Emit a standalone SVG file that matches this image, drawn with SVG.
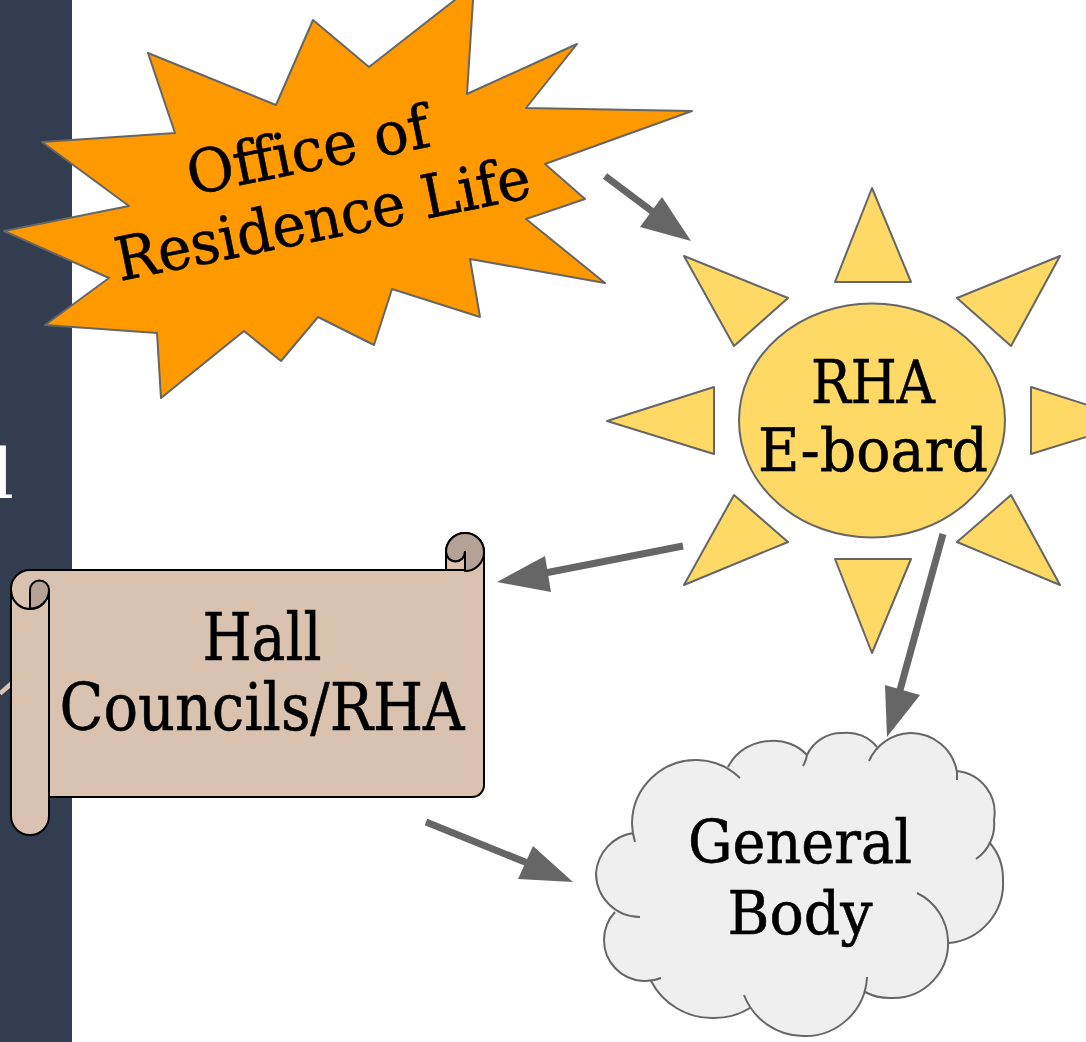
<svg xmlns="http://www.w3.org/2000/svg" width="1086" height="1042" viewBox="0 0 1086 1042">
<style>
.t{font-family:"DejaVu Serif",serif;text-anchor:middle;fill:#000;stroke:#000;stroke-width:.6}
.s{stroke:#666;stroke-width:2;stroke-linejoin:round}
.c{stroke:#666;stroke-width:7;fill:none}
.h{fill:#666}
.sc{fill:#d9c3b0;stroke:#000;stroke-width:2;stroke-linejoin:round}
.k{fill:#b3a295;stroke:#000;stroke-width:2;stroke-linejoin:round}
</style>
<rect x="0" y="0" width="1086" height="1042" fill="#fff"/>
<rect id="sidebar" x="0" y="0" width="72" height="1042" fill="#333d50"/>
<text x="14" y="498" text-anchor="end" font-family="DejaVu Serif,serif" font-size="70" fill="#fff">l</text>
<line x1="0" y1="693.500" x2="12" y2="683" stroke="#d9c3b0" stroke-width="4.500"/>
<g id="office">
<polygon class="s" fill="#ff9900" points="148,53 276,105 313,20 369,67 474,-15 467,94 577,44 526,108 692,111 545,164 585,199 526,219 605,283 470,259 480,317 392,289 374,345 318,317 281,361 244,331 161,398 157,333 45,325 109,278 4,231 129,206 42,142 175,133"/>
<g transform="rotate(-11.500 322 190)">
<text class="t" x="316" y="169" font-size="60" textLength="246" lengthAdjust="spacingAndGlyphs">Office of</text>
<text class="t" x="317" y="239" font-size="60" textLength="422" lengthAdjust="spacingAndGlyphs">Residence Life</text>
</g>
</g>
<g id="rha">
<g class="s" fill="#ffd966">
<ellipse cx="872" cy="420.500" rx="133" ry="117"/>
<polygon points="872,188 911,282 835,282"/>
<polygon points="872,653 835,559 911,559"/>
<polygon points="607,421 714,387 714,454"/>
<polygon points="1138,421 1031,387 1031,454"/>
<polygon points="684,256 788,298 734,346"/>
<polygon points="1060,256 957,298 1011,346"/>
<polygon points="684,585 734,495 788,542"/>
<polygon points="1060,585 1011,495 957,542"/>
</g>
<text class="t" x="873" y="403" font-size="60" textLength="124" lengthAdjust="spacingAndGlyphs">RHA</text>
<text class="t" x="873" y="471" font-size="60" textLength="230" lengthAdjust="spacingAndGlyphs">E-board</text>
</g>
<g id="hall">
<path class="sc" d="M30,570 H446 V552 A19,19 0 0 1 484,552 V785 A12,12 0 0 1 472,797 H49 V590 A19,19 0 0 1 11,590 A19,19 0 0 1 30,570 Z"/>
<path class="sc" d="M11,590 A19,19 0 0 0 49,590 V816 A19,19 0 0 1 11,816 Z"/>
<path class="k" d="M30,608.500 V590 A9.500,9.500 0 0 1 49,590 A19,19 0 0 1 30,608.500 Z"/>
<path class="k" d="M465,571 A19,19 0 1 0 446,552 A9.500,9.500 0 0 0 465,552 Z"/>
<path class="sc" d="M446,552 V570 H465 V552 A9.500,9.500 0 0 1 446,552 Z"/>
<text class="t" x="262" y="660" font-size="66" textLength="119" lengthAdjust="spacingAndGlyphs">Hall</text>
<text class="t" x="262" y="730" font-size="66" textLength="405" lengthAdjust="spacingAndGlyphs">Councils/RHA</text>
</g>
<g id="general">
<path fill="#efefef" d="M615,912 A44,44 0 0 1 596,873 A44,44 0 0 1 633,833 L632,823 A64,64 0 0 1 697,760 A64,64 0 0 1 728,767 A48,48 0 0 1 770,741 A45,45 0 0 1 807,755 A38,38 0 0 1 843,733 A38,38 0 0 1 877,747 A47,47 0 0 1 910,733 A47,47 0 0 1 957,772 A42,42 0 0 1 994,820 A42,42 0 0 1 989,842 A55,55 0 0 1 1003,880 A60,60 0 0 1 949,943 A55,55 0 0 1 893,998 A55,55 0 0 1 865,992 A62,62 0 0 1 803,1036 A64,64 0 0 1 750,1008 A69,69 0 0 1 713,1018 A69,69 0 0 1 651,981 A42,42 0 0 1 643,981 A41,41 0 0 1 604,940 A41,41 0 0 1 615,912 Z"/>
<path fill="none" stroke="#666" stroke-width="2" d="M640,917 A44,44 0 0 1 596,873 A44,44 0 0 1 633,833 M635,842 A64,64 0 0 1 632,823 A64,64 0 0 1 697,760 A64,64 0 0 1 740,778 M728,767 A48,48 0 0 1 770,741 A45,45 0 0 1 807,755 A30,30 0 0 1 803,766 M807,755 A38,38 0 0 1 843,733 A38,38 0 0 1 877,747 M869,761 A47,47 0 0 1 910,733 A47,47 0 0 1 957,772 L957,780 M957,771 A42,42 0 0 1 994,820 A42,42 0 0 1 976,859 M989,842 A55,55 0 0 1 1003,880 A60,60 0 0 1 949,943 M917,893 A55,55 0 0 1 948,940 A55,55 0 0 1 893,998 A55,55 0 0 1 865,992 M867,977 A62,62 0 0 1 803,1036 A64,64 0 0 1 744,995 M750,1008 A69,69 0 0 1 713,1018 A69,69 0 0 1 651,981 M661,978 A42,42 0 0 1 643,981 A41,41 0 0 1 604,940 A41,41 0 0 1 615,912"/>
<text class="t" x="800" y="863" font-size="60" textLength="224" lengthAdjust="spacingAndGlyphs">General</text>
<text class="t" x="800" y="934" font-size="60" textLength="145" lengthAdjust="spacingAndGlyphs">Body</text>
</g>
<g id="connectors">
<line class="c" x1="605" y1="176" x2="665" y2="221"/>
<polygon class="h" points="691,241 662,197 640,227"/>
<line class="c" x1="683" y1="546" x2="540" y2="574"/>
<polygon class="h" points="497,582 545,556 551,592"/>
<line class="c" x1="943" y1="534" x2="900" y2="690"/>
<polygon class="h" points="887,737 885,685 920,695"/>
<line class="c" x1="426" y1="822" x2="535" y2="866"/>
<polygon class="h" points="573,882 533,846 518,879"/>
</g>
</svg>
